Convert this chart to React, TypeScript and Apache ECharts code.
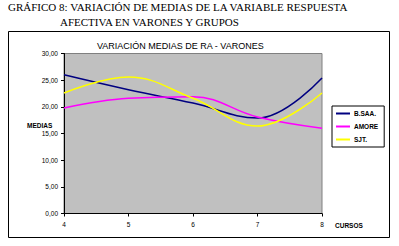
import React, { useEffect, useRef } from "react";
import * as echarts from "echarts";

const cursos = [4, 5, 6, 7, 8];
const bsaa = [26.0, 23.2, 20.7, 17.9, 25.4];
const amore = [19.8, 21.6, 21.9, 18.1, 16.0];
const sjt = [22.6, 25.6, 21.6, 16.4, 22.6];
const seriesNames = ["B.SAA.", "AMORE", "SJT."];
const seriesColors = ["#000080", "#ff00ff", "#ffff00"];

export default function App() {
  const ref = useRef<HTMLDivElement>(null);
  useEffect(() => {
    document.body.style.margin = "0";
    const chart = echarts.init(ref.current!, null, { renderer: "svg" });
    const values = [bsaa, amore, sjt];
    const font = "Arial, 'Liberation Sans', sans-serif";
    chart.setOption({
      animation: false,
      backgroundColor: "#ffffff",
      title: {
        text: "VARIACIÓN MEDIAS DE RA - VARONES",
        left: 97,
        top: 41,
        padding: 0,
        textStyle: { fontFamily: font, fontSize: 9, fontWeight: "normal", color: "#000" },
      },
      graphic: [
        {
          type: "rect",
          z: -100,
          shape: { x: 8.5, y: 31.5, width: 381, height: 206 },
          style: { fill: "#ffffff", stroke: "#000", lineWidth: 1 },
        },
        {
          type: "text",
          left: 8,
          top: 1,
          style: {
            text: "GRÁFICO 8: VARIACIÓN DE MEDIAS DE LA VARIABLE RESPUESTA",
            fontFamily: "'Liberation Serif', 'Times New Roman', serif",
            fontSize: 11,
            fill: "#000",
          },
        },
        {
          type: "text",
          left: 60,
          top: 16,
          style: {
            text: "AFECTIVA EN VARONES Y GRUPOS",
            fontFamily: "'Liberation Serif', 'Times New Roman', serif",
            fontSize: 11,
            fill: "#000",
          },
        },
        {
          type: "text",
          left: 27,
          top: 122,
          style: { text: "MEDIAS", fontFamily: font, fontSize: 6.5, fontWeight: "bold", fill: "#000" },
        },
        {
          type: "text",
          left: 335,
          top: 222,
          style: { text: "CURSOS", fontFamily: font, fontSize: 6.5, fontWeight: "bold", fill: "#000" },
        },
      ],
      legend: {
        orient: "vertical",
        left: 332,
        top: 106,
        padding: [4, 6, 4, 4],
        itemGap: 6,
        itemWidth: 14,
        itemHeight: 2,
        borderColor: "#000",
        borderWidth: 1,
        backgroundColor: "#fff",
        borderRadius: 0,
        icon: "rect",
        textStyle: { fontFamily: font, fontSize: 6.5, fontWeight: "bold", color: "#000", padding: [0, 0, 0, -1] },
        data: seriesNames,
      },
      grid: {
        left: 64,
        right: 77,
        top: 53.5,
        bottom: 32.5,
        show: true,
        backgroundColor: "#c0c0c0",
        borderColor: "#808080",
        borderWidth: 1,
      },
      xAxis: {
        type: "value",
        min: 4,
        max: 8,
        interval: 1,
        splitLine: { show: false },
        axisLine: { lineStyle: { color: "#000", width: 1 } },
        axisTick: { length: 3, lineStyle: { color: "#000" } },
        axisLabel: { fontFamily: font, fontSize: 6.5, color: "#000", margin: 7 },
      },
      yAxis: {
        type: "value",
        min: 0,
        max: 30,
        interval: 5,
        splitLine: { show: false },
        axisLine: { show: true, lineStyle: { color: "#000", width: 1 } },
        axisTick: { show: true, length: 3, lineStyle: { color: "#000" } },
        axisLabel: {
          fontFamily: font,
          fontSize: 6.5,
          color: "#000",
          margin: 6,
          formatter: (v: number) => v.toFixed(2).replace(".", ","),
        },
      },
      series: seriesNames.map((name, i) => ({
        name,
        type: "line",
        smooth: 0.4,
        symbol: "none",
        color: seriesColors[i],
        lineStyle: { color: seriesColors[i], width: 1.5 },
        data: cursos.map((c, j) => [c, values[i][j]]),
      })),
    });
    return () => chart.dispose();
  }, []);
  return <div ref={ref} style={{ width: 399, height: 246 }} />;
}
